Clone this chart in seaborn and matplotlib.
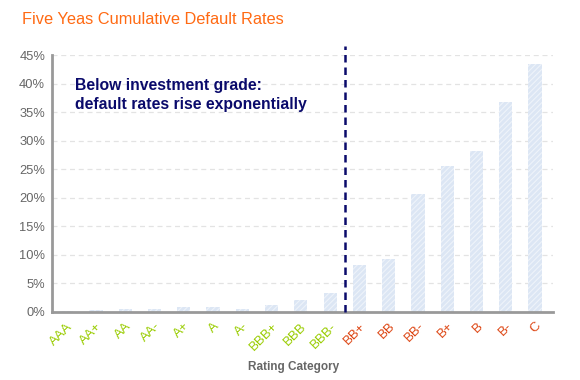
import numpy as np
import pandas as pd
import matplotlib
matplotlib.use("Agg")
import matplotlib.pyplot as plt
import matplotlib.transforms as mtransforms
import seaborn as sns

ratings = ["AAA", "AA+", "AA", "AA-", "A+", "A", "A-", "BBB+", "BBB", "BBB-",
           "BB+", "BB", "BB-", "B+", "B", "B-", "C"]
default_rates = [0.2, 0.3, 0.5, 0.5, 0.9, 0.9, 0.5, 1.2, 2.1, 3.3,
                 8.2, 9.3, 20.7, 25.6, 28.2, 36.8, 43.4]
investment_grade = ratings[:10]

sns.set_style("white")
plt.rcParams["font.family"] = ["Liberation Sans", "DejaVu Sans"]
plt.rcParams["hatch.linewidth"] = 0.8

df = pd.DataFrame({"rating": ratings, "rate": default_rates})

fig = plt.figure(figsize=(5.8, 3.8), dpi=100)
ax = fig.add_axes([0.0897, 0.179, 0.863, 0.676])

sns.barplot(data=df, x="rating", y="rate", color="#dce6f4", width=0.45,
            saturation=1, ax=ax)
for p in ax.patches:
    p.set_facecolor("#dce6f4")
    p.set_edgecolor("#eef3fa")
    p.set_linewidth(0)
    p.set_hatch("//////")

# grid
ax.set_ylim(0, 45)
ax.set_xlim(-0.5, 16.6)
ax.set_yticks(np.arange(0, 46, 5))
ax.set_yticklabels([f"{v}%" for v in range(0, 46, 5)])
for v in range(5, 46, 5):
    ax.axhline(v, color="#e3e3e3", lw=0.9, ls=(0, (4, 3)), zorder=0)

# x ticks at boundaries, labels at centres
ax.set_xticks(np.arange(0.5, 17, 1))
ax.set_xticklabels([])
ax.set_xticks(np.arange(len(ratings)), minor=True)
ax.set_xticklabels(ratings, minor=True, rotation=45, ha="right",
                   rotation_mode="anchor", fontsize=9.5)
shift = mtransforms.ScaledTranslation(-4 / 100, 0, fig.dpi_scale_trans)
for lbl in ax.get_xticklabels(minor=True):
    lbl.set_color("#99cc00" if lbl.get_text() in investment_grade else "#dd4411")
    lbl.set_transform(lbl.get_transform() + shift)
ax.tick_params(axis="x", which="minor", length=0, pad=6)
ax.tick_params(axis="x", which="major", length=5, width=2, color="#999999",
               direction="out")
ax.tick_params(axis="y", length=4, width=1.2, color="#999999", direction="out",
               labelcolor="#666666", labelsize=9.3, pad=1)

for s in ["top", "right"]:
    ax.spines[s].set_visible(False)
for s in ["left", "bottom"]:
    ax.spines[s].set_color("#999999")
    ax.spines[s].set_linewidth(2)

# divider between investment grade and speculative
ax.plot([9.5, 9.5], [0, 46.6], color="#0a0a6b", lw=1.8, ls=(0, (3, 2)),
        clip_on=False, zorder=3)
ax.text(0.27, 41.0, "Below investment grade:\ndefault rates rise exponentially",
        color="#0a0a6b", fontsize=11.3, fontweight="bold", va="top",
        linespacing=1.35)

ax.set_xlabel("Rating Category", color="#666666", fontsize=8.5,
              fontweight="bold")
ax.xaxis.set_label_coords(0.483, -0.19)
ax.set_ylabel("")
fig.text(0.038, 0.95, "Five Yeas Cumulative Default Rates", color="#ff6a13",
         fontsize=11.8, va="center")

fig.savefig("out.png", dpi=100)
